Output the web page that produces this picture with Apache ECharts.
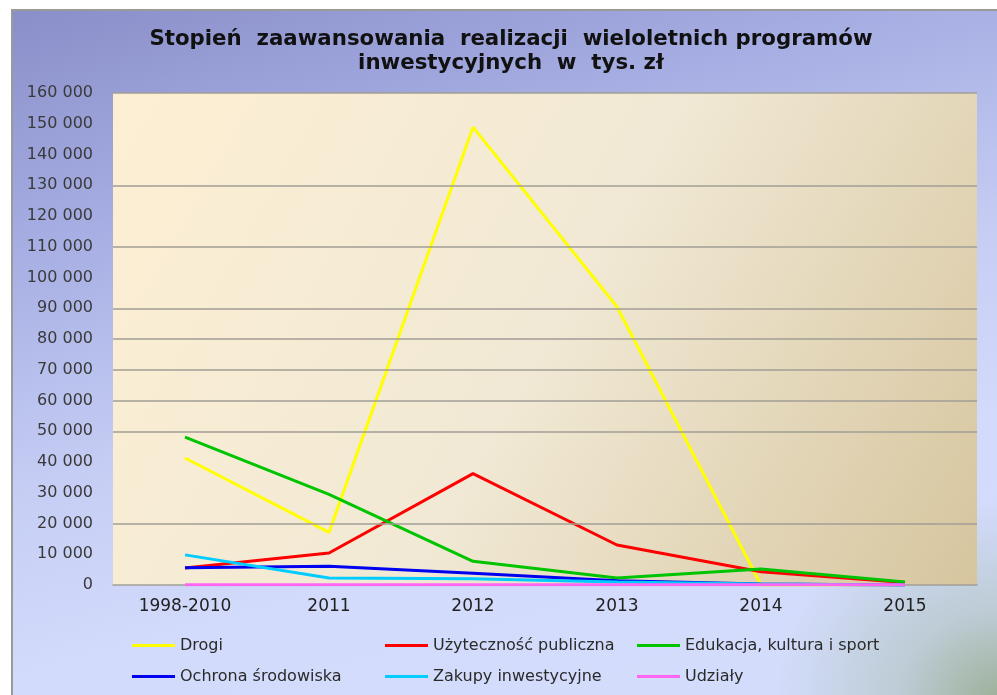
<!DOCTYPE html>
<html>
<head>
<meta charset="utf-8">
<script src="https://cdn.jsdelivr.net/npm/echarts@6/dist/echarts.min.js"></script>
<style>
    html, body { margin: 0; padding: 0; background: #fff; }
    #frame {
        position: absolute; left: 11px; top: 9px; width: 990px; height: 690px;
        border-left: 2px solid #9a9a9a; border-top: 2px solid #9a9a9a;
        background:
            radial-gradient(ellipse 230px 200px at 100% 100%, rgba(150,170,140,0.9) 0%, rgba(170,190,180,0.55) 45%, rgba(200,210,240,0) 100%),
            linear-gradient(165deg, #8a8ec9 0%, #a6aee3 25%, #c5cdf4 50%, #d2dbfb 70%, #d4ddfc 100%);
    }
    #main { position: absolute; left: 0; top: 0; width: 997px; height: 695px; }
</style>
</head>
<body>
<div id="frame"></div>
<div id="main"></div>
<script>
    var years = ['1998-2010', '2011', '2012', '2013', '2014', '2015'];
    var drogi = [41300, 17100, 148900, 90500, 0, 0];
    var uzytecznosc = [5500, 10400, 36200, 13000, 4300, 800];
    var edukacja = [48100, 29500, 7700, 2300, 5200, 1000];
    var ochrona = [5600, 6100, 3800, 1400, 300, 0];
    var zakupy = [9800, 2300, 2000, 1000, 300, 0];
    var udzialy = [100, 100, 100, 100, 100, 100];
    // gridlines that are visible in the scanned picture
    var gridValues = [20000, 50000, 60000, 70000, 80000, 90000, 110000, 130000, 160000];

    // Excel-like "# ##0" tick format
    function fmt(v) {
        return String(v).replace(/\B(?=(\d{3})+(?!\d))/g, ' ');
    }

    var chartDom = document.getElementById('main');
    var myChart = echarts.init(chartDom);
    var option;

    function line(name, data, color) {
        return {
            name: name,
            type: 'line',
            data: data,
            symbol: 'none',
            lineStyle: { color: color, width: 3 },
            itemStyle: { color: color }
        };
    }

    function legendCol(left, names) {
        return {
            orient: 'vertical',
            left: left,
            top: 636,
            padding: 0,
            icon: 'rect',
            itemWidth: 43,
            itemHeight: 3,
            itemGap: 12,
            data: names,
            textStyle: { fontFamily: 'DejaVu Sans', fontSize: 16, lineHeight: 19, color: '#2a2a2a' }
        };
    }

    var series = [
        line('Drogi', drogi, '#ffff00'),
        line('Użyteczność publiczna', uzytecznosc, '#ff0000'),
        line('Edukacja, kultura i sport', edukacja, '#00c400'),
        line('Ochrona środowiska', ochrona, '#0000f0'),
        line('Zakupy inwestycyjne', zakupy, '#00ccff'),
        line('Udziały', udzialy, '#ff66f2')
    ];
    series[0].markLine = {
        silent: true,
        symbol: 'none',
        label: { show: false },
        lineStyle: { color: '#a29e96', width: 1.5, type: 'solid' },
        data: gridValues.map(function (v) { return { yAxis: v }; })
    };

    option = {
        backgroundColor: 'transparent',
        title: {
            text: 'Stopień  zaawansowania  realizacji  wieloletnich programów\ninwestycyjnych  w  tys. zł',
            left: 506,
            top: 22,
            textAlign: 'center',
            textStyle: {
                fontFamily: 'DejaVu Sans',
                fontWeight: 'bold',
                fontSize: 21.3,
                lineHeight: 24,
                color: '#111'
            }
        },
        legend: [
            legendCol(132, ['Drogi', 'Ochrona środowiska']),
            legendCol(385, ['Użyteczność publiczna', 'Zakupy inwestycyjne']),
            legendCol(637, ['Edukacja, kultura i sport', 'Udziały'])
        ],
        grid: {
            left: 113,
            right: 20,
            top: 93,
            bottom: 110,
            show: true,
            borderWidth: 0,
            backgroundColor: {
                type: 'linear', x: 0, y: 0, x2: 1, y2: 1,
                colorStops: [
                    { offset: 0, color: '#fdefd3' },
                    { offset: 0.5, color: '#f1e9d5' },
                    { offset: 1, color: '#d6c59e' }
                ]
            }
        },
        xAxis: {
            type: 'category',
            data: years,
            axisLine: { lineStyle: { color: '#a29e96', width: 1.5 } },
            axisTick: { show: false },
            axisLabel: {
                margin: 13,
                fontFamily: 'DejaVu Sans',
                fontSize: 17,
                color: '#222'
            }
        },
        yAxis: {
            type: 'value',
            min: 0,
            max: 160000,
            interval: 10000,
            axisLine: { show: false },
            axisTick: { show: false },
            splitLine: { show: false },
            axisLabel: {
                margin: 20,
                fontFamily: 'DejaVu Sans',
                fontSize: 16,
                color: '#3a3a3a',
                formatter: fmt
            }
        },
        series: series
    };

    option && myChart.setOption(option);
</script>
</body>
</html>
